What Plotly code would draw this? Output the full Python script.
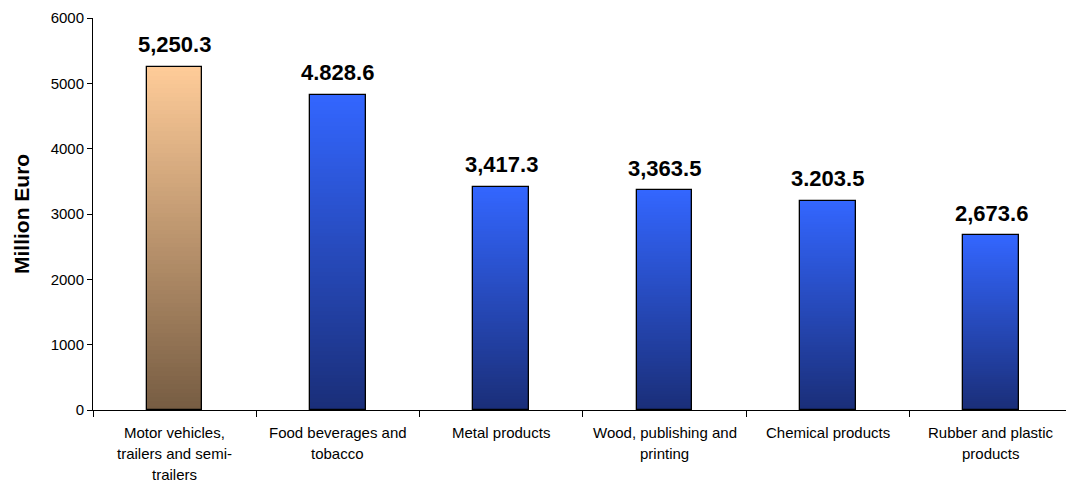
import plotly.graph_objects as go

# Sectors and their values (million euro)
categories = [
    ["Motor vehicles,", "trailers and semi-", "trailers"],
    ["Food beverages and", "tobacco"],
    ["Metal products"],
    ["Wood, publishing and", "printing"],
    ["Chemical products"],
    ["Rubber and plastic", "products"],
]
values = [5250.3, 4828.6, 3417.3, 3363.5, 3203.5, 2673.6]
value_labels = ["5,250.3", "4.828.6", "3,417.3", "3,363.5", "3.203.5", "2,673.6"]
y_ticks = [0, 1000, 2000, 3000, 4000, 5000, 6000]

# Gradient endpoints (bottom colour, top colour) per bar
highlight = ((118, 92, 66), (255, 204, 153))
regular = ((26, 46, 120), (51, 102, 255))
bar_gradients = [highlight] + [regular] * (len(values) - 1)

FONT = "Liberation Sans, Arial, sans-serif"
BAR_WIDTH = 0.34
STEPS = 80

x_pos = list(range(len(values)))
fig = go.Figure()


def mix(c0, c1, t):
    return "rgb({},{},{})".format(*[round(a + (b - a) * t) for a, b in zip(c0, c1)])


# Vertical gradient: each bar is built from thin stacked slices
for k in range(STEPS):
    t = (k + 0.5) / STEPS
    fig.add_trace(go.Bar(
        x=x_pos,
        y=[v / STEPS for v in values],
        base=[v * k / STEPS for v in values],
        width=BAR_WIDTH,
        marker=dict(color=[mix(g[0], g[1], t) for g in bar_gradients], line=dict(width=0)),
        hoverinfo="skip",
        showlegend=False,
    ))

# Bar outlines
fig.add_trace(go.Bar(
    x=x_pos,
    y=values,
    base=[0] * len(values),
    width=BAR_WIDTH,
    marker=dict(color="rgba(0,0,0,0)", line=dict(color="black", width=1.3)),
    showlegend=False,
))

annotations = []
# Value labels above bars
for i, (v, lab) in enumerate(zip(values, value_labels)):
    annotations.append(dict(
        x=i, y=v, xref="x", yref="y", text="<b>%s</b>" % lab, showarrow=False,
        yanchor="middle", yshift=22, font=dict(family=FONT, size=22, color="black"),
    ))

# Category labels, one line at a time
for i, lines in enumerate(categories):
    for j, line in enumerate(lines):
        annotations.append(dict(
            x=i, y=0, xref="x", yref="paper", text=line, showarrow=False,
            yanchor="middle", yshift=-22 - 21 * j,
            font=dict(family=FONT, size=15, color="black"),
        ))

# Y-axis title
annotations.append(dict(
    x=0, y=0.5, xref="paper", yref="paper", text="<b>Million Euro</b>", showarrow=False,
    textangle=-90, xanchor="center", yanchor="middle", xshift=-72,
    font=dict(family=FONT, size=21, color="black"),
))

n = len(values)
fig.update_layout(
    width=1066, height=482,
    margin=dict(l=93, r=0, t=18, b=72),
    barmode="overlay",
    bargap=0,
    plot_bgcolor="white", paper_bgcolor="white",
    annotations=annotations,
    xaxis=dict(
        range=[-0.5, -0.5 + 973 / 163.3],
        tickvals=[i - 0.5 for i in range(n)],
        showticklabels=False,
        ticks="outside", ticklen=6, tickcolor="black", tickwidth=1,
        showline=True, linecolor="black", linewidth=1,
        showgrid=False, zeroline=False,
    ),
    yaxis=dict(
        range=[0, 6000],
        tickvals=y_ticks,
        ticks="outside", ticklen=5, tickcolor="black", tickwidth=1,
        showline=True, linecolor="black", linewidth=1,
        showgrid=False, zeroline=False,
        tickfont=dict(family=FONT, size=15, color="black"),
    ),
)

fig.write_html("out.html")
